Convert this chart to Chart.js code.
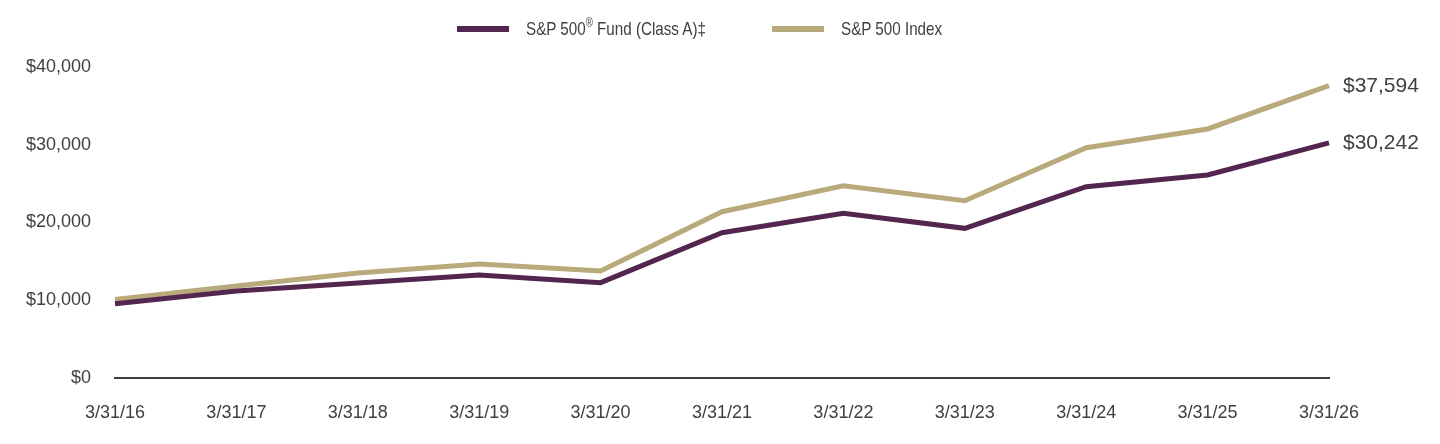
<!DOCTYPE html>
<html>
<head>
<meta charset="utf-8">
<script src="https://cdn.jsdelivr.net/npm/chart.js@4"></script>
<style>
  html, body { margin: 0; padding: 0; background: #fff; }
  #wrap { width: 1440px; height: 444px; position: relative; }
  .legend-item { position: absolute; top: 17px; height: 24px; display: flex; align-items: center;
                 font: 19px "Liberation Sans", Arial, sans-serif; color: #404040; white-space: nowrap; }
  .legend-item .swatch { display: inline-block; width: 52px; height: 6px; margin-right: 17px; }
  .legend-item .txt { display: inline-block; transform: scaleX(0.8); transform-origin: left center; }
  .legend-item sup { font-size: 12px; position: relative; top: -1px; }
</style>
</head>
<body>
<div id="wrap">
  <canvas id="growthChart"></canvas>
  <div id="legend"></div>
</div>
<script>
const dates = ['3/31/16', '3/31/17', '3/31/18', '3/31/19', '3/31/20', '3/31/21',
               '3/31/22', '3/31/23', '3/31/24', '3/31/25', '3/31/26'];
const fundValues = [9550, 11190, 12220, 13250, 12260, 18690, 21180, 19250, 24610, 26110, 30242];
const indexValues = [10100, 11830, 13500, 14660, 13760, 21390, 24730, 22800, 29620, 32030, 37594];
const fundLabel = 'S&P 500\u00AE Fund (Class A)\u2021';
const indexLabel = 'S&P 500 Index';
const fundColor = '#53264f';
const indexColor = '#b9aa7b';

const textColor = '#404040';
const fontFamily = '"Liberation Sans", Arial, sans-serif';

function money(v) {
    return '$' + v.toLocaleString('en-US');
}

// html legend, the built-in one adds its padding to the height too
const legendItems = [
    { text: fundLabel, color: fundColor, left: 457 },
    { text: indexLabel, color: indexColor, left: 772 }
];
const legendEl = document.getElementById('legend');
legendItems.forEach(item => {
    const div = document.createElement('div');
    div.className = 'legend-item';
    div.style.left = item.left + 'px';
    const sw = document.createElement('span');
    sw.className = 'swatch';
    sw.style.background = item.color;
    const txt = document.createElement('span');
    txt.className = 'txt';
    txt.innerHTML = item.text.replace('&', '&amp;').replace('\u00AE', '<sup>\u00AE</sup>');
    div.appendChild(sw);
    div.appendChild(txt);
    legendEl.appendChild(div);
});

// writes the ending value next to the last point of each line
const endLabels = {
    id: 'endLabels',
    afterDatasetsDraw(chart) {
        const ctx = chart.ctx;
        ctx.save();
        ctx.font = '21px ' + fontFamily;
        ctx.fillStyle = textColor;
        ctx.textAlign = 'left';
        ctx.textBaseline = 'middle';
        chart.data.datasets.forEach((ds, i) => {
            const pts = chart.getDatasetMeta(i).data;
            const last = pts[pts.length - 1];
            ctx.fillText(money(ds.data[ds.data.length - 1]), last.x + 14, last.y);
        });
        ctx.restore();
    }
};

const ctx = document.getElementById('growthChart').getContext('2d');
new Chart(ctx, {
    type: 'line',
    data: {
        labels: dates,
        datasets: [
            {
                label: fundLabel,
                data: fundValues,
                borderColor: fundColor,
                backgroundColor: fundColor,
                borderWidth: 5,
                pointRadius: 0,
                tension: 0,
                fill: false
            },
            {
                label: indexLabel,
                data: indexValues,
                borderColor: indexColor,
                backgroundColor: indexColor,
                borderWidth: 5,
                pointRadius: 0,
                tension: 0,
                fill: false
            }
        ]
    },
    options: {
        responsive: true,
        maintainAspectRatio: false,
        animation: false,
        layout: { padding: { top: 67, right: 111, bottom: 0, left: 0 } },
        plugins: {
            legend: { display: false },
            tooltip: { enabled: false }
        },
        scales: {
            x: {
                offset: false,
                grid: { display: false, drawTicks: false },
                border: { display: true, color: '#404040', width: 2 },
                ticks: {
                    color: textColor,
                    padding: 24,
                    maxRotation: 0,
                    autoSkip: false,
                    font: { family: fontFamily, size: 18 }
                },
                afterFit: s => { s.height = 66; }
            },
            y: {
                min: 0,
                max: 40000,
                grid: { display: false, drawTicks: false },
                border: { display: false },
                ticks: {
                    stepSize: 10000,
                    color: textColor,
                    padding: 24,
                    font: { family: fontFamily, size: 18 },
                    callback: v => money(v)
                },
                afterFit: s => { s.width = 115; }
            }
        }
    },
    plugins: [endLabels]
});
</script>
</body>
</html>
